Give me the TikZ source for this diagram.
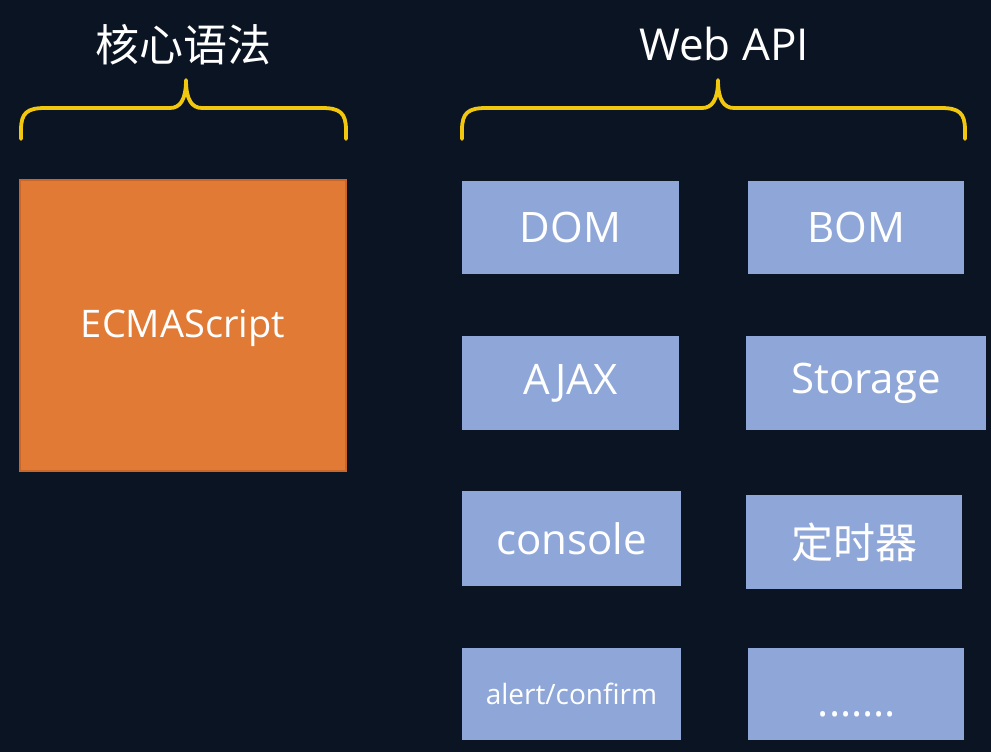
\documentclass[tikz,border=0pt]{standalone}
\usepackage{fontspec}
\setmainfont{Open Sans}
\newfontfamily\cjk{Noto Sans CJK SC}
\definecolor{bg}{HTML}{0B1423}
\definecolor{orng}{HTML}{E07A35}
\definecolor{orngb}{HTML}{C9662A}
\definecolor{blu}{HTML}{8FA7D8}
\definecolor{brc}{HTML}{F2C80F}
\tikzset{
  apibox/.style={fill=blu, draw=none, text=white, inner sep=0pt, font=\fontsize{42}{46}\selectfont},
  bracepath/.style={draw=brc, line width=3.8pt, line cap=round, line join=round},
  ttl/.style={text=white, inner sep=0pt, font=\fontsize{44}{48}\selectfont}
}
\begin{document}
\begin{tikzpicture}[x=1pt,y=-1pt]
\fill[bg] (0,0) rectangle (991,752);
\useasboundingbox (0,0) rectangle (991,752);
% titles
\node[ttl] (t1) at (183,45) {\cjk 核心语法};
\node[ttl] (t2) at (724,44) {Web API};
% braces
\draw[bracepath] (21,139) -- (21,130) .. controls (21,113) and (27,108) .. (45,108) -- (170,108) .. controls (180,108) and (186,100) .. (186,80)
  .. controls (186,100) and (192,108) .. (202,108) -- (322,108) .. controls (340,108) and (346,113) .. (346,130) -- (346,139);
\draw[bracepath] (462,139) -- (462,130) .. controls (462,113) and (468,108) .. (486,108) -- (702,108) .. controls (712,108) and (718,100) .. (718,80)
  .. controls (718,100) and (724,108) .. (734,108) -- (941,108) .. controls (959,108) and (965,113) .. (965,130) -- (965,139);
% core box
\node[fill=orng, draw=orngb, line width=1.2pt, minimum width=326pt, minimum height=291pt, inner sep=0pt] (ecma) at (183,325.5) {};
\node[text=white, inner sep=0pt, font=\fontsize{38}{42}\selectfont] (ecmat) at (183,328) {ECMAScript};
% api boxes
\node[apibox, minimum width=217pt, minimum height=93pt] (dom) at (570.5,227.5) {DOM};
\node[apibox, minimum width=216pt, minimum height=93pt] (bom) at (856,227.5) {BOM};
\node[apibox, minimum width=217pt, minimum height=94pt] (ajax) at (570.5,383) {AJAX};
\node[apibox, minimum width=240pt, minimum height=94pt] (stor) at (866,383) {Storage};
\node[apibox, minimum width=219pt, minimum height=95pt] (cons) at (571.5,538.5) {console};
\node[apibox, minimum width=216pt, minimum height=94pt] (timer) at (854,542) {\cjk 定时器};
\node[apibox, minimum width=219pt, minimum height=92pt, font=\fontsize{28}{32}\selectfont] (alert) at (571.5,694) {alert/confirm};
\node[apibox, minimum width=216pt, minimum height=92pt] (more) at (856,694) {};
\node[text=white, inner sep=0pt, anchor=base, font=\fontsize{42}{46}\selectfont] (dots) at (857,716) {.......};
\end{tikzpicture}
\end{document}
